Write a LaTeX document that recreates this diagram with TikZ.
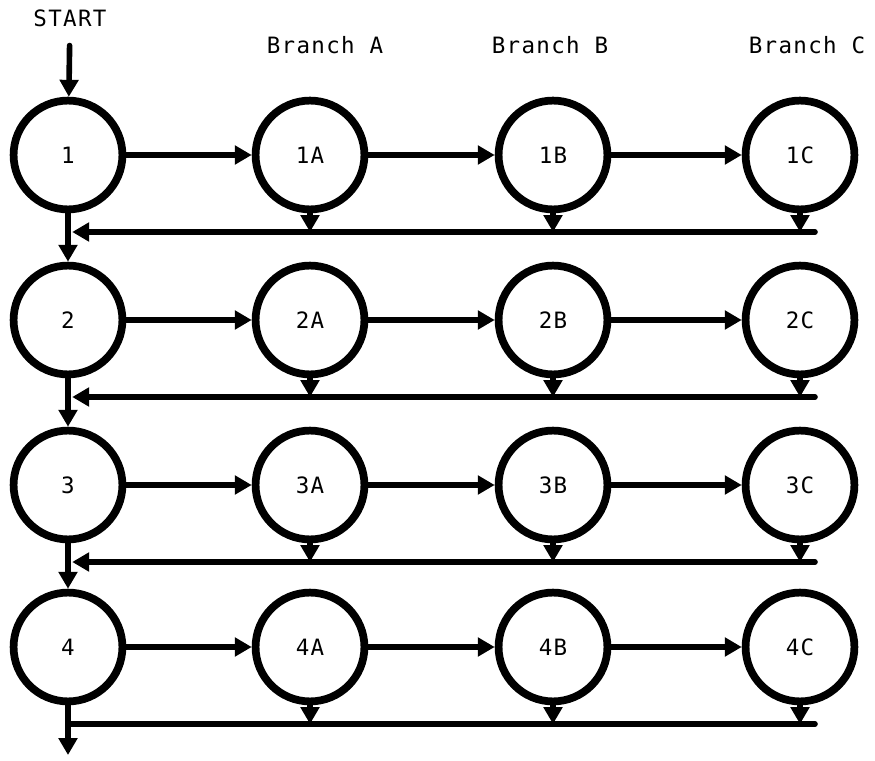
\documentclass[tikz,border=0pt]{standalone}
\usepackage{fontspec}
\setmonofont[LetterSpace=6]{DejaVu Sans Mono}
\usetikzlibrary{arrows.meta}
\tikzset{
  stage/.style={circle, draw, line width=5.5pt, minimum size=2.72cm, inner sep=0pt,
    font=\ttfamily\fontsize{16}{19}\selectfont},
  tag/.style={font=\ttfamily\fontsize{16}{19}\selectfont},
  flow/.style={line width=4pt, -{Triangle[length=12pt,width=13pt]}},
  link/.style={line width=4pt}
}
\begin{document}
\begin{tikzpicture}[x=0.025cm, y=-0.025cm, line cap=round, line join=round]
  \useasboundingbox (0,0) rectangle (875,761);
  \node[tag] (start) at (70,18) {START};
  \foreach \b/\x in {A/325,B/550,C/807} \node[tag] (head\b) at (\x,45) {Branch \b};
  % one row per stage: main circle, three branches, return line
  \foreach \r/\y in {1/155,2/320,3/485,4/647} {
    \node[stage] (s\r) at (68,\y) {\r};
    \foreach \b/\x in {A/310,B/553,C/800} \node[stage] (s\r\b) at (\x,\y) {\r\b};
    \coordinate (ret\r) at (815,\y+77);
    \coordinate (join\r) at (68,\y+77);
    \draw[flow] (s\r) -- (s\r A);
    \draw[flow] (s\r A) -- (s\r B);
    \draw[flow] (s\r B) -- (s\r C);
    \foreach \b in {A,B,C} \draw[flow] (s\r\b.south) -- (s\r\b.south |- join\r);
  }
  \foreach \r in {1,2,3} \draw[flow, shorten >=3pt] (ret\r) -- (join\r);
  \draw[link] (ret4) -- (join4);
  % main column
  \foreach \r [count=\n from 2] in {1,2,3} \draw[flow] (s\r) -- (s\n);
  \coordinate (stop) at (68,755);
  \draw[flow] (s4) -- (stop);
  \draw[flow, shorten <=10pt] (start) -- (s1);
\end{tikzpicture}
\end{document}
